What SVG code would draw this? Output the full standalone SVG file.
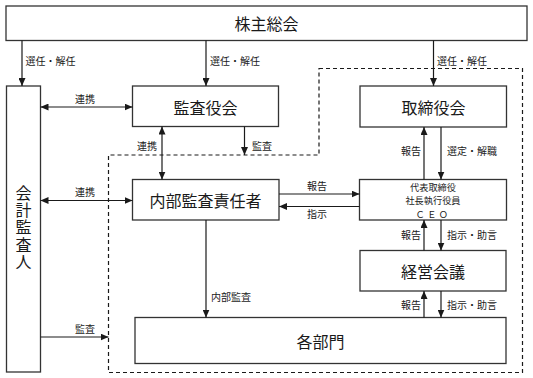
<svg xmlns="http://www.w3.org/2000/svg" width="533" height="378" viewBox="0 0 533 378">
<defs>
<marker id="ah" markerUnits="userSpaceOnUse" markerWidth="8" markerHeight="7" refX="8" refY="3.5" orient="auto-start-reverse">
<path d="M0,0 L8,3.5 L0,7 z" fill="#1a1a1a"/>
</marker>
</defs>
<style>
.box{fill:#fff;stroke:#333;stroke-width:1.3}
.t{font-family:"Noto Sans CJK JP","Noto Sans",sans-serif;font-size:16px;fill:#1a1a1a;text-anchor:middle;dominant-baseline:central}
.v{font-family:"Noto Sans CJK JP","Noto Sans",sans-serif;font-size:16px;fill:#1a1a1a;text-anchor:middle;writing-mode:vertical-rl;letter-spacing:1.3px}
.s{font-family:"Noto Sans CJK JP","Noto Sans",sans-serif;font-size:10px;fill:#1a1a1a}
.m{text-anchor:middle}
.ceo{font-family:"Noto Sans CJK JP","Noto Sans",sans-serif;font-size:9.2px;fill:#1a1a1a;text-anchor:middle}
.c{fill:none;stroke:#1a1a1a;stroke-width:1.2}
.e{marker-end:url(#ah)}
.b{marker-start:url(#ah);marker-end:url(#ah)}
.d{fill:none;stroke:#1a1a1a;stroke-width:1.2;stroke-dasharray:4 3}
</style>
<rect width="533" height="378" fill="#fff"/>
<path class="d" d="M319,68.5 H522.5 V372.5 H108.5 V155 H319 Z"/>
<g id="kabunushi"><rect class="box" x="6" y="6" width="521" height="34.5"/><text class="t" x="266.5" y="23">株主総会</text></g>
<g id="kaikei"><rect class="box" x="6.5" y="86" width="34" height="286"/><text class="v" x="23.5" y="228">会計監査人</text></g>
<g id="kansayaku"><rect class="box" x="132.5" y="86" width="146" height="40.5"/><text class="t" x="205.5" y="106.5">監査役会</text></g>
<g id="torishimari"><rect class="box" x="360" y="86" width="146.5" height="41"/><text class="t" x="433.5" y="106.5">取締役会</text></g>
<g id="naibu"><rect class="box" x="132.5" y="179.5" width="146.5" height="40.5"/><text class="t" x="205.5" y="200">内部監査責任者</text></g>
<g id="ceo"><rect class="box" x="359.5" y="179.5" width="147" height="40.5"/><text class="ceo" x="433" y="191">代表取締役<tspan x="433" dy="13.4">社長執行役員</tspan><tspan x="433" dy="13.4" letter-spacing="2.5">ＣＥＯ</tspan></text></g>
<g id="keiei"><rect class="box" x="360" y="250.5" width="146" height="40.5"/><text class="t" x="433" y="271">経営会議</text></g>
<g id="kakubumon"><rect class="box" x="135" y="317.5" width="371" height="46"/><text class="t" x="320.5" y="341">各部門</text></g>
<g id="connectors">
<path class="c e" d="M22,40.5 V86"/>
<path class="c e" d="M206,40.5 V86"/>
<path class="c e" d="M433.5,40.5 V86"/>
<path class="c b" d="M40.5,107 H132.5"/>
<path class="c b" d="M40.5,200.5 H132.5"/>
<path class="c b" d="M162,126.5 V179.5"/>
<path class="c e" d="M244.5,126.5 V155"/>
<path class="c e" d="M279,194 H359.5"/>
<path class="c e" d="M359.5,206.5 H279"/>
<path class="c e" d="M424,179.5 V127"/>
<path class="c e" d="M441,127 V179.5"/>
<path class="c e" d="M424,250.5 V220"/>
<path class="c e" d="M441,220 V250.5"/>
<path class="c e" d="M424,317.5 V291"/>
<path class="c e" d="M441,291 V317.5"/>
<path class="c e" d="M206,220 V317.5"/>
<path class="c e" d="M40.5,337 H108.5"/>
<text class="s" x="25.5" y="64.5">選任・解任</text>
<text class="s" x="210" y="64.5">選任・解任</text>
<text class="s" x="437" y="64.5">選任・解任</text>
<text class="s m" x="85" y="102.5">連携</text>
<text class="s m" x="85" y="195.5">連携</text>
<text class="s m" x="147" y="150">連携</text>
<text class="s m" x="262" y="150">監査</text>
<text class="s m" x="317" y="190">報告</text>
<text class="s m" x="317" y="217.5">指示</text>
<text class="s m" x="411" y="154.5">報告</text>
<text class="s" x="447" y="154.5">選定・解職</text>
<text class="s m" x="411" y="238.5">報告</text>
<text class="s" x="447" y="238.5">指示・助言</text>
<text class="s m" x="411" y="308.5">報告</text>
<text class="s" x="447" y="308.5">指示・助言</text>
<text class="s" x="211" y="300.5">内部監査</text>
<text class="s m" x="85" y="332.5">監査</text>
</g>
</svg>
